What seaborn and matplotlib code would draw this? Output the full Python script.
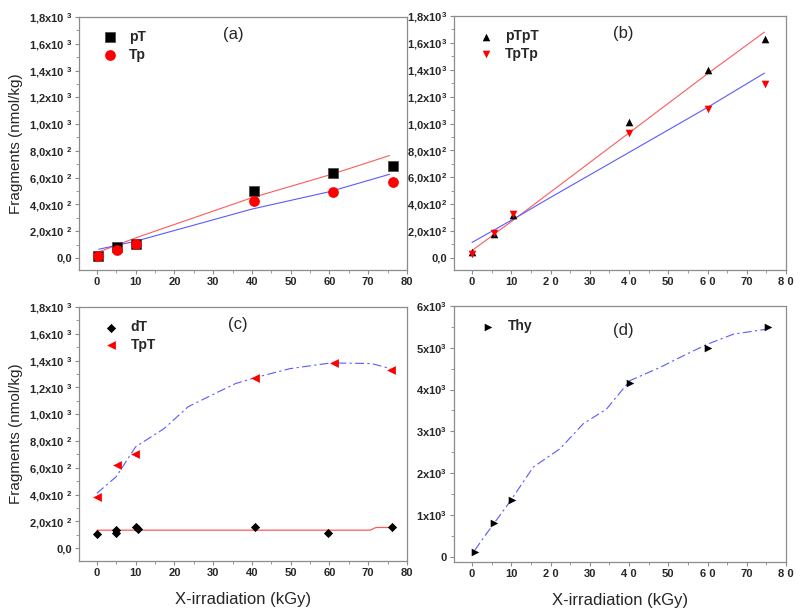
import numpy as np
import pandas as pd
import matplotlib
matplotlib.use("Agg")
import matplotlib.pyplot as plt
import seaborn as sns
from matplotlib.ticker import MultipleLocator, FixedLocator

sns.set_style("ticks")
plt.rcParams['font.family'] = ['Liberation Sans', 'DejaVu Sans']
plt.rcParams['mathtext.fontset'] = 'custom'
plt.rcParams['mathtext.rm'] = 'Liberation Sans'
plt.rcParams['mathtext.bf'] = 'Liberation Sans:bold'
plt.rcParams['mathtext.it'] = 'Liberation Sans:italic'

# ---------------- data ----------------
# (a)
a_x = [0.3, 5.1, 10.1, 40.6, 60.8, 76.3]
a_pT = [12, 82, 107, 499, 633, 690]
a_Tp = [12, 57, 104, 425, 494, 564]
a_fit_x = [0.5, 10, 40, 60, 75.5]
a_fit_red = [45, 150, 450, 620, 765]
a_fit_blue = [65, 125, 365, 495, 625]

# (b)
b_x = [0.1, 5.6, 10.5, 40.0, 60.0, 74.6]
b_pTpT = [45, 181, 318, 1008, 1398, 1629]
b_TpTp = [27, 189, 330, 926, 1105, 1293]
b_fit_x = [0.0, 10, 20, 40, 60, 74.5]
b_fit_red = [55, 270, 490, 930, 1370, 1680]
b_fit_blue = [115, 280, 450, 785, 1120, 1375]

# (c)
c_dT_x = [0.0, 4.9, 4.9, 10.0, 10.5, 40.9, 59.5, 76.2]
c_dT = [110, 135, 115, 155, 145, 157, 112, 157]
c_TpT_x = [0.0, 5.1, 9.9, 40.9, 61.2, 76.0]
c_TpT = [385, 621, 700, 1274, 1380, 1333]
c_fit_blue_x = [0.0, 5, 10, 17.4, 23.5, 30.5, 35.8, 41, 49.8, 60.4, 70.9, 75.7]
c_fit_blue = [410, 534, 757, 894, 1055, 1155, 1229, 1274, 1340, 1383, 1378, 1340]
c_fit_red_x = [0.0, 70.5, 72.0, 76.0]
c_fit_red = [135, 135, 155, 155]

# (d)
d_x = [0.7, 5.6, 10.3, 40.2, 60.0, 75.5]
d_Thy = [119, 811, 1367, 4150, 4984, 5500]
d_fit_x = [0.7, 3.7, 9.6, 15.6, 22.4, 28.3, 34.3, 40.2, 47.9, 54.7, 60.0, 66.6, 75.0]
d_fit = [159, 556, 1312, 2146, 2583, 3180, 3537, 4213, 4531, 4849, 5087, 5326, 5445]

ytick_vals_abc = [0, 200, 400, 600, 800, 1000, 1200, 1400, 1600, 1800]
ytick_mant = ["2,0", "4,0", "6,0", "8,0", "1,0", "1,2", "1,4", "1,6", "1,8"]
ytick_exp = [2, 2, 2, 2, 3, 3, 3, 3, 3]
ytick_vals_d = [0, 1000, 2000, 3000, 4000, 5000, 6000]
ytick_mant_d = ["1", "2", "3", "4", "5", "6"]
xtick_vals = [0, 10, 20, 30, 40, 50, 60, 70, 80]
xtick_lab_ac = ["0", "10", "20", "30", "40", "50", "60", "70", "80"]
xtick_lab_bd = ["0", "10", "2 0", "30", "4 0", "50", "6 0", "70", "8 0"]


def sci(m, e, gap):
    m = m.replace(",", "{,}")
    sp = r"\ " if gap else ""
    return r"$\mathbf{" + m + r"x10" + sp + r"}^{\mathbf{" + str(e) + r"}}$"


ytick_lab_ac = ["0,0"] + [sci(m, e, True) for m, e in zip(ytick_mant, ytick_exp)]
ytick_lab_b = ["0,0"] + [sci(m, e, False) for m, e in zip(ytick_mant, ytick_exp)]
ytick_lab_d = ["0"] + [sci(m, 3, False) for m in ytick_mant_d]

RED = "#ff0000"
LRED = "#ff5a5a"
LBLUE = "#5a5aff"

fig = plt.figure(figsize=(8, 6.16), dpi=100)
ax_a = fig.add_axes([79/800, 1-270/616, 328/800, 253/616])
ax_b = fig.add_axes([454/800, 1-270/616, 332/800, 254/616])
ax_c = fig.add_axes([79/800, 1-561/616, 328/800, 254/616])
ax_d = fig.add_axes([454/800, 1-562/616, 332/800, 256/616])


def style(ax, yvals, ylabs, xlabs, ylim, yminor):
    ax.set_xlim(-4.6, 80)
    ax.set_ylim(*ylim)
    ax.xaxis.set_major_locator(FixedLocator(xtick_vals))
    ax.set_xticklabels(xlabs)
    ax.xaxis.set_minor_locator(MultipleLocator(5))
    ax.yaxis.set_major_locator(FixedLocator(yvals))
    ax.set_yticklabels(ylabs)
    ax.yaxis.set_minor_locator(MultipleLocator(yminor))
    for s in ax.spines.values():
        s.set_visible(True)
        s.set_color("#8c8c8c")
        s.set_linewidth(0.9)
    ax.tick_params(which="major", direction="out", length=3, width=0.8,
                   color="#8c8c8c", labelsize=8, pad=2)
    ax.tick_params(which="minor", direction="out", length=2, width=0.6,
                   color="#8c8c8c")
    for lab in ax.get_xticklabels() + ax.get_yticklabels():
        lab.set_fontweight("bold")
    ax.set_xlabel("")
    ax.set_ylabel("")


def leg(ax, anchor):
    ax.legend(frameon=False, loc="upper left", bbox_to_anchor=anchor,
              prop={"weight": "bold", "size": 10}, handletextpad=0.9,
              labelspacing=0.25, borderaxespad=0, handlelength=1.0)


# (a)
sns.lineplot(x=a_fit_x, y=a_fit_red, ax=ax_a, color=LRED, lw=0.8, sort=False, legend=False)
sns.lineplot(x=a_fit_x, y=a_fit_blue, ax=ax_a, color=LBLUE, lw=0.8, sort=False, legend=False)
sns.scatterplot(x=a_x, y=a_pT, ax=ax_a, marker="s", color="black", s=55,
                edgecolor="#444444", linewidth=0.5, label="pT", zorder=3)
sns.scatterplot(x=a_x, y=a_Tp, ax=ax_a, marker="o", color=RED, s=60,
                edgecolor=RED, linewidth=0, label="Tp", zorder=4)
style(ax_a, ytick_vals_abc, ytick_lab_ac, xtick_lab_ac, (-90, 1800), 100)
leg(ax_a, (0.055, 0.97))
ax_a.text(0.47, 0.93, "(a)", transform=ax_a.transAxes, fontsize=12, ha="center", va="center")
ax_a.set_ylabel("Fragments (nmol/kg)", fontsize=11, labelpad=4)

# (b)
sns.lineplot(x=b_fit_x, y=b_fit_red, ax=ax_b, color=LRED, lw=0.8, sort=False, legend=False)
sns.lineplot(x=b_fit_x, y=b_fit_blue, ax=ax_b, color=LBLUE, lw=0.8, sort=False, legend=False)
sns.scatterplot(x=b_x, y=b_pTpT, ax=ax_b, marker="^", color="black", s=30,
                linewidth=0, label="pTpT", zorder=3)
sns.scatterplot(x=b_x, y=b_TpTp, ax=ax_b, marker="v", color=RED, s=30,
                linewidth=0, label="TpTp", zorder=4)
style(ax_b, ytick_vals_abc, ytick_lab_b, xtick_lab_bd, (-90, 1800), 100)
leg(ax_b, (0.058, 0.97))
ax_b.text(0.51, 0.93, "(b)", transform=ax_b.transAxes, fontsize=12, ha="center", va="center")

# (c)
sns.lineplot(x=c_fit_blue_x, y=c_fit_blue, ax=ax_c, color=LBLUE, lw=0.8, sort=False,
             legend=False, linestyle=(0, (8, 3, 2, 3)))
sns.lineplot(x=c_fit_red_x, y=c_fit_red, ax=ax_c, color=LRED, lw=0.9, sort=False, legend=False)
sns.scatterplot(x=c_dT_x, y=c_dT, ax=ax_c, marker="D", color="black", s=22,
                linewidth=0, label="dT", zorder=3)
sns.scatterplot(x=c_TpT_x, y=c_TpT, ax=ax_c, marker="<", color=RED, s=40,
                linewidth=0, label="TpT", zorder=4)
style(ax_c, ytick_vals_abc, ytick_lab_ac, xtick_lab_ac, (-95, 1800), 100)
leg(ax_c, (0.06, 0.97))
ax_c.text(0.485, 0.93, "(c)", transform=ax_c.transAxes, fontsize=12, ha="center", va="center")
ax_c.set_ylabel("Fragments (nmol/kg)", fontsize=11, labelpad=4)
ax_c.set_xlabel("X-irradiation (kGy)", fontsize=12, labelpad=10)

# (d)
sns.lineplot(x=d_fit_x, y=d_fit, ax=ax_d, color=LBLUE, lw=0.8, sort=False,
             legend=False, linestyle=(0, (8, 3, 2, 3)))
sns.scatterplot(x=d_x, y=d_Thy, ax=ax_d, marker=">", color="black", s=30,
                linewidth=0, label="Thy", zorder=3)
style(ax_d, ytick_vals_d, ytick_lab_d, xtick_lab_bd, (-125, 6000), 500)
leg(ax_d, (0.065, 0.97))
ax_d.text(0.51, 0.906, "(d)", transform=ax_d.transAxes, fontsize=12, ha="center", va="center")
ax_d.set_xlabel("X-irradiation (kGy)", fontsize=12, labelpad=10)

fig.savefig("out.png", dpi=100)
